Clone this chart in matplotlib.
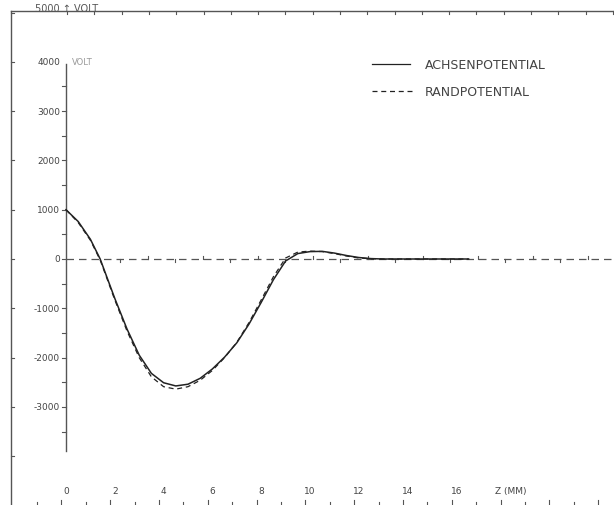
import matplotlib
matplotlib.use('Agg')
import matplotlib.pyplot as plt
import numpy as np

z_mm = [0, 0.5, 1.0, 1.4, 2.0, 2.5, 3.0, 3.5, 4.0, 4.5, 5.0, 5.5, 6.0, 6.5, 7.0,
        7.5, 8.0, 8.5, 9.0, 9.5, 10.0, 10.5, 11.0, 11.5, 12.0, 12.5, 13.0, 14.0,
        15.0, 16.0, 16.5]
achsenpotential = [1000, 760, 400, 0, -800, -1420, -1950, -2320, -2510, -2575,
                   -2540, -2420, -2230, -1990, -1700, -1320, -880, -420, -40, 110,
                   150, 155, 120, 70, 30, 8, 0, 0, 0, 0, 0]
randpotential = [1000, 740, 380, -20, -830, -1460, -2000, -2390, -2590, -2640,
                 -2590, -2460, -2260, -2000, -1690, -1290, -830, -360, 20, 140,
                 160, 150, 110, 60, 20, 5, 0, 0, 0, 0, 0]

y_ticks = [4000, 3000, 2000, 1000, 0, -1000, -2000, -3000]
x_ticks = [0, 2, 4, 6, 8, 10, 12, 14, 16]

W, H = 614, 506
# pixel -> daten (1 mm = 24.4 px, 1000 V = 49.3 px, ursprung bei px (66, 260))
sx, sy = 24.4, 49.3 / 1000
def dx(px): return (px - 66) / sx
def dy(py): return (260 - py) / sy

grey = '#555555'
txt = '#444444'

fig = plt.figure(figsize=(W / 100, H / 100), dpi=100)
ax = fig.add_axes([0, 0, 1, 1])
ax.set_xlim(dx(0), dx(W))
ax.set_ylim(dy(H), dy(0))
ax.axis('off')

# aeusserer rahmen
ax.plot([dx(11), dx(11)], [dy(12), dy(H)], color=grey, lw=1)
ax.plot([dx(11), dx(W)], [dy(12), dy(12)], color=grey, lw=1)
for px in np.arange(67, W, 27.3):
    ax.plot([dx(px), dx(px)], [dy(12), dy(15)], color=grey, lw=0.8)
for v in range(5000, -5000, -1000):
    py = 260 - v * sy
    ax.plot([dx(11), dx(14)], [dy(py), dy(py)], color=grey, lw=0.8)
ax.text(dx(35), dy(9), '5000 ↑ VOLT', fontsize=7, color=grey, va='center')
for i, px in enumerate(np.arange(37, W, 24.4)):
    h = 5 if i % 2 else 3
    ax.plot([dx(px), dx(px)], [dy(H), dy(H - h)], color=grey, lw=0.8)

# y-achse
ax.plot([0, 0], [-3890, 3950], color=grey, lw=1)
for v in range(3500, -4000, -500):
    ax.plot([0, -4 / sx], [v, v], color=grey, lw=0.8)
for v in y_ticks:
    ax.text(dx(60), v, str(v), fontsize=6.5, color=txt, ha='right', va='center')
ax.text(dx(72), 4000, 'VOLT', fontsize=6, color='#999999', va='center')

# nulllinie gestrichelt mit haken
ax.plot([0, dx(W)], [0, 0], color=grey, lw=0.9, ls=(0, (6, 4)))
for i, px in enumerate(np.arange(120, W, 27.5)):
    d = -3 if i % 2 == 0 else 3
    ax.plot([dx(px), dx(px)], [0, d / sy], color=grey, lw=0.8)

# x-beschriftung
for z in x_ticks:
    ax.text(z, dy(492), str(z), fontsize=6.5, color=txt, ha='center', va='center')
ax.text(dx(495), dy(492), 'Z (MM)', fontsize=6.5, color=txt, ha='left', va='center')

# kurven
ax.plot(z_mm, achsenpotential, color='#222222', lw=1.1)
ax.plot(z_mm, randpotential, color='#222222', lw=0.9, ls=(0, (4, 3)))

# legende
ax.plot([dx(372), dx(410)], [dy(65), dy(65)], color='#222222', lw=0.9)
ax.plot([dx(372), dx(412)], [dy(92), dy(92)], color='#222222', lw=0.9, ls=(0, (4, 3)))
ax.text(dx(425), dy(65), 'ACHSENPOTENTIAL', fontsize=9, color=txt, va='center')
ax.text(dx(425), dy(92), 'RANDPOTENTIAL', fontsize=9, color=txt, va='center')

fig.savefig('out.png', dpi=100)
